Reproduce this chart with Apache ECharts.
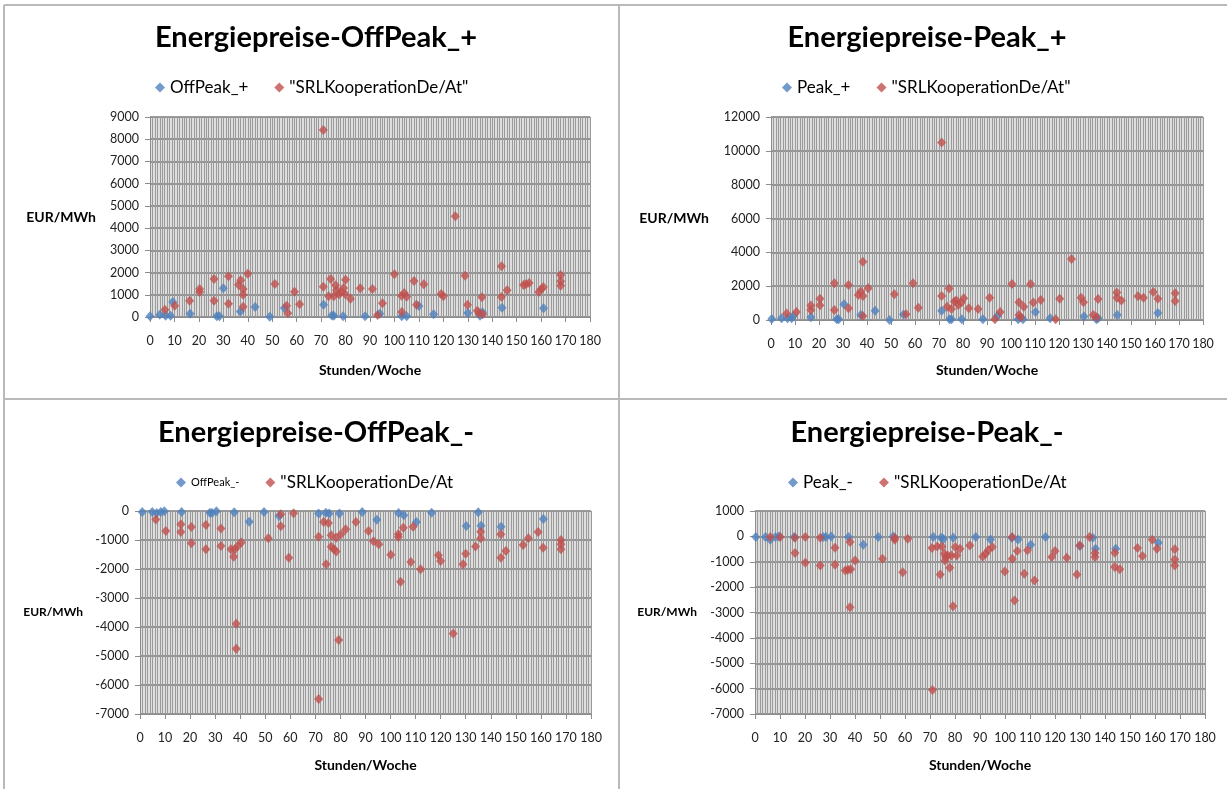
<!DOCTYPE html>
<html>
<head>
<meta charset="utf-8">
<script src="https://cdn.jsdelivr.net/npm/echarts@6/dist/echarts.min.js"></script>
<style>
  html, body { margin: 0; padding: 0; background: #fff; }
  #chart { width: 1227px; height: 789px; }
</style>
</head>
<body>
<div id="chart"></div>
<script>
// Stunde der Woche -> Energiepreis in EUR/MWh

const offPeakPlus = [
  [0,30],[4,100],[6.4,60],[8.4,60],[9.3,670],[16.4,150],[27.3,30],[28.4,30],[30,1290],[37,250],
  [43,450],[49,15],[55,400],[71,550],[74.4,70],[75.2,60],[79,30],[88,30],[94,150],[103,30],
  [105,30],[110,500],[116,120],[130,180],[135,60],[136,210],[144,420],[161,390]
];
const srlOffPeakPlus = [
  [6.1,330],[10.1,510],[16.2,735],[20.3,1260],[20.3,1125],[26.2,1710],[26.2,735],[32.1,1830],[32.1,600],
  [36.2,1455],[37.1,1650],[38.1,1260],[38.1,1005],[38.1,465],[40,1950],[51.1,1485],[55.9,510],[56.4,165],
  [59.1,1140],[61.2,570],[70.9,8415],[70.9,1365],[73.9,1710],[73.1,930],[75.9,1425],[75.2,930],[76.3,1200],
  [77.3,1020],[78.3,1140],[79.2,1305],[79.9,1020],[80,1680],[82,825],[86,1290],[91,1260],[93.1,90],
  [95.1,615],[100,1920],[102.9,960],[103,225],[104,1080],[105,915],[108,1620],[109,555],[112,1470],
  [119.1,1035],[120,930],[124.9,4530],[128.9,1860],[129.9,555],[133.9,285],[134.5,165],[135.8,885],
  [136.1,120],[143.8,2280],[143.8,900],[146.1,1200],[152.8,1440],[153.8,1470],[155.1,1530],[159.1,1125],
  [160.1,1260],[160.9,1350],[168,1890],[168,1605],[168,1410]
];

const peakPlus = [
  [0.3,60],[4.4,100],[6.9,100],[8.6,100],[9.3,240],[16.6,160],[27.4,40],[28.2,40],[30.4,930],[37.4,300],
  [43.4,550],[49.4,0],[55.2,320],[71.1,550],[74.4,40],[75.2,40],[79.5,40],[88.3,40],[94.3,240],[103,40],
  [105,40],[110.2,470],[116.3,100],[130.4,200],[135.6,40],[136.3,100],[144.3,300],[161.2,410]
];
const srlPeakPlus = [
  [6.5,390],[10.6,470],[16.6,850],[16.6,590],[20.4,1260],[20.4,870],[26.4,2170],[26.4,590],[32.3,2070],
  [32.3,690],[36.4,1480],[37.4,1680],[38.3,3450],[38.3,1420],[38.3,240],[40.5,1880],[51.4,1520],[56.3,340],
  [59.2,2170],[61.4,730],[71.1,10500],[71.1,1420],[74.2,1860],[73.4,790],[75.2,650],[76.4,1090],[77.2,1150],
  [78,890],[79.3,1030],[80.3,1280],[82.4,690],[86.3,650],[91.1,1320],[93.3,40],[95.5,470],[100.4,2130],
  [103.3,1050],[103.3,300],[104.1,160],[105.3,790],[108.2,2130],[109.3,1030],[112.4,1180],[118.6,40],
  [120.3,1260],[125.2,3610],[129.2,1320],[130.2,1050],[134.3,300],[135.6,160],[136.3,1240],[144.1,1620],
  [144.1,1320],[146,1150],[152.9,1400],[155.2,1320],[159.3,1660],[161.2,1260],[168.4,1580],[168.4,1130]
];

const offPeakMinus = [
  [0.9,-35],[4.9,-35],[6.7,-70],[8.3,-35],[9.7,-10],[16.6,-35],[27.9,-60],[28.8,-70],[30.5,-10],[37.6,-45],
  [43.6,-370],[49.5,-35],[55.5,-170],[71.3,-90],[74.2,-60],[75.5,-90],[79.6,-90],[88.7,-35],[94.5,-300],
  [103.2,-70],[105.3,-150],[110.3,-380],[116.4,-60],[130.2,-520],[135,-45],[136.1,-510],[144.1,-540],[161,-280]
];
const srlOffPeakMinus = [
  [6.3,-290],[10.3,-690],[16.3,-460],[16.3,-725],[20.5,-550],[20.5,-1115],[26.3,-485],[26.3,-1320],
  [32.3,-600],[32.3,-1210],[36.3,-1320],[37.4,-1580],[37.9,-1320],[38.4,-3890],[38.4,-4750],[39,-1210],
  [40.4,-1090],[51.2,-940],[56.2,-115],[56.2,-530],[59.4,-1610],[61.3,-80],[71.3,-890],[71.3,-6480],
  [73.3,-380],[74.3,-1840],[75.2,-415],[76.3,-840],[76.3,-1230],[77.4,-1320],[78.3,-1400],[78.3,-920],
  [79.3,-4450],[80.2,-805],[82.1,-630],[86.2,-380],[91.2,-690],[93.2,-1040],[95.3,-1150],[100.1,-1510],
  [103.1,-805],[103.1,-900],[104,-2440],[105.1,-575],[108.1,-1760],[109,-540],[112,-2010],[119.1,-1530],
  [120,-1725],[125,-4220],[128.9,-1840],[130,-1470],[133.9,-1220],[136,-715],[136,-940],[144,-805],
  [144,-1610],[146,-1380],[152.9,-1170],[155,-940],[158.9,-725],[160.9,-1265],[168,-1000],[168,-1150],[168,-1320]
];

const peakMinus = [
  [0.3,-25],[4.2,-25],[6.1,-130],[8.2,-25],[9.6,0],[15.7,-25],[27.3,-25],[28.4,-25],[30.5,0],[37.4,-25],
  [43.3,-330],[49.3,-25],[55.3,0],[71.3,-25],[74.4,-50],[75.4,-105],[79.3,-50],[88.3,-25],[94.2,-120],
  [102.7,-50],[105.2,-120],[110.3,-330],[116.2,-25],[130,-380],[135.1,-50],[136.2,-490],[144.3,-490],[161.3,-250]
];
const srlPeakMinus = [
  [6.1,-25],[10.1,-25],[16,-50],[16,-660],[20.1,-25],[20.1,-1040],[26.1,-50],[26.1,-1145],[32,-450],
  [32,-1120],[36.1,-1340],[37.2,-1315],[38,-225],[38,-2790],[38.3,-1300],[40,-950],[51,-880],[55.9,-50],
  [55.9,-130],[59.1,-1410],[61.1,-90],[70.8,-460],[71,-6050],[72.9,-395],[74.1,-1500],[74.8,-395],
  [75.7,-685],[76,-950],[76.3,-815],[77.1,-750],[77.9,-1240],[78.5,-750],[79.2,-2750],[80.1,-420],
  [80.7,-750],[82,-490],[85.9,-355],[91.1,-790],[92.2,-685],[93.3,-550],[94.9,-420],[99.9,-1380],
  [102.9,-880],[102.9,-25],[103.8,-2530],[104.9,-580],[107.7,-1475],[109,-550],[111.8,-1740],[118.7,-815],
  [120,-580],[124.7,-840],[128.8,-1500],[129.9,-355],[133.8,-25],[136,-660],[136,-815],[143.9,-645],
  [143.9,-1210],[145.9,-1300],[153,-460],[155,-775],[158.9,-130],[160.8,-490],[167.9,-510],[167.9,-910],[167.9,-1145]
];

const titles = ['Energiepreise-OffPeak_+', 'Energiepreise-Peak_+', 'Energiepreise-OffPeak_-', 'Energiepreise-Peak_-'];
const ownNames = ['OffPeak_+', 'Peak_+', 'OffPeak_-', 'Peak_-'];
const srlNames = ['"SRLKooperationDe/At"', '"SRLKooperationDe/At"', '"SRLKooperationDe/At', '"SRLKooperationDe/At'];
const yRanges = [[0, 9000, 1000], [0, 12000, 2000], [-7000, 0, 1000], [-7000, 1000, 1000]];
const xRange = [0, 180, 10];
const yName = 'EUR/MWh';
const xName = 'Stunden/Woche';

const ownData = [offPeakPlus, peakPlus, offPeakMinus, peakMinus];
const srlData = [srlOffPeakPlus, srlPeakPlus, srlOffPeakMinus, srlPeakMinus];

const FONT = 'Lato, "Open Sans", "DejaVu Sans", sans-serif';
const BLUE = '#4F81BD';
const RED = '#C0504D';

// panel layout: plot rectangle, title centre, legend/axis-name placement
const layout = [
  { grid: { left: 150, top: 117, width: 440, height: 200 }, titleX: 311, titleY: 18, legendX: 150, legendY: 74, ownSize: 17, yGap: 54, yNameSize: 14, xGap: 46 },
  { grid: { left: 771, top: 117, width: 432, height: 203 }, titleX: 922, titleY: 18, legendX: 777, legendY: 74, ownSize: 17, yGap: 62, yNameSize: 14, xGap: 43 },
  { grid: { left: 140, top: 511, width: 451, height: 203 }, titleX: 311, titleY: 413, legendX: 171, legendY: 469, ownSize: 11, yGap: 57, yNameSize: 12, xGap: 44 },
  { grid: { left: 755, top: 511, width: 450, height: 203 }, titleX: 922, titleY: 413, legendX: 783, legendY: 469, ownSize: 17, yGap: 58, yNameSize: 12, xGap: 44 }
];

const option = {
  backgroundColor: '#ffffff',
  animation: false,
  textStyle: { fontFamily: FONT },
  title: [], legend: [], grid: [], xAxis: [], yAxis: [], series: [],
  graphic: [
    { type: 'line', shape: { x1: 4, y1: 5, x2: 4, y2: 789 }, style: { stroke: '#b9b9b9', lineWidth: 2 } },
    { type: 'line', shape: { x1: 619, y1: 5, x2: 619, y2: 789 }, style: { stroke: '#b9b9b9', lineWidth: 2 } },
    { type: 'line', shape: { x1: 4, y1: 5, x2: 1227, y2: 5 }, style: { stroke: '#b9b9b9', lineWidth: 2 } },
    { type: 'line', shape: { x1: 4, y1: 399, x2: 1227, y2: 399 }, style: { stroke: '#b9b9b9', lineWidth: 2 } }
  ]
};

layout.forEach((L, i) => {
  option.title.push({
    text: titles[i], left: L.titleX, top: L.titleY, textAlign: 'center',
    textStyle: { fontFamily: FONT, fontSize: 29, fontWeight: 'bold', color: '#000' }
  });
  option.legend.push({
    left: L.legendX, top: L.legendY, orient: 'horizontal',
    itemWidth: 10, itemHeight: 10, itemGap: 26,
    textStyle: { fontFamily: FONT, fontSize: 17, color: '#000' },
    data: [
      { name: ownNames[i], icon: 'diamond', itemStyle: { color: BLUE }, textStyle: { fontSize: L.ownSize } },
      { name: srlNames[i], icon: 'diamond', itemStyle: { color: RED } }
    ]
  });
  option.grid.push(Object.assign({ containLabel: false, show: true, backgroundColor: '#dedede', borderWidth: 0 }, L.grid));
  option.xAxis.push({
    type: 'value', gridIndex: i, min: xRange[0], max: xRange[1], interval: xRange[2],
    name: xName, nameLocation: 'middle', nameGap: L.xGap,
    nameTextStyle: { fontFamily: FONT, fontSize: 14, fontWeight: 'bold', color: '#000' },
    axisLine: { show: true, onZero: false, lineStyle: { color: '#8c8c8c', width: 1 } },
    axisTick: { show: true, length: 5, lineStyle: { color: '#8c8c8c' } },
    axisLabel: { margin: 17, fontFamily: FONT, fontSize: 12.5, color: '#222' },
    splitLine: { show: true, lineStyle: { color: '#9a9a9a', width: 1 } },
    minorTick: { show: false, splitNumber: 10 },
    minorSplitLine: { show: true, lineStyle: { color: '#9a9a9a', width: 1 } }
  });
  const yr = yRanges[i];
  option.yAxis.push({
    type: 'value', gridIndex: i, min: yr[0], max: yr[1], interval: yr[2],
    name: yName, nameLocation: 'middle', nameRotate: 0, nameGap: L.yGap,
    nameTextStyle: { fontFamily: FONT, fontSize: L.yNameSize, fontWeight: 'bold', color: '#000' },
    axisLine: { show: true, onZero: false, lineStyle: { color: '#8c8c8c', width: 1 } },
    axisTick: { show: true, length: 5, lineStyle: { color: '#8c8c8c' } },
    axisLabel: { margin: 11, fontFamily: FONT, fontSize: 12.5, color: '#222', formatter: v => String(v) },
    splitLine: { show: true, lineStyle: { color: '#7a7a7a', width: 1.5 } }
  });
  option.series.push({
    name: ownNames[i], type: 'scatter', xAxisIndex: i, yAxisIndex: i,
    symbol: 'diamond', symbolSize: [9, 10], itemStyle: { color: BLUE }, data: ownData[i], z: 3
  });
  option.series.push({
    name: srlNames[i], type: 'scatter', xAxisIndex: i, yAxisIndex: i,
    symbol: 'diamond', symbolSize: [9, 10], itemStyle: { color: RED }, data: srlData[i], z: 4
  });
});

const chart = echarts.init(document.getElementById('chart'), null, { renderer: 'canvas' });
chart.setOption(option);
</script>
</body>
</html>
